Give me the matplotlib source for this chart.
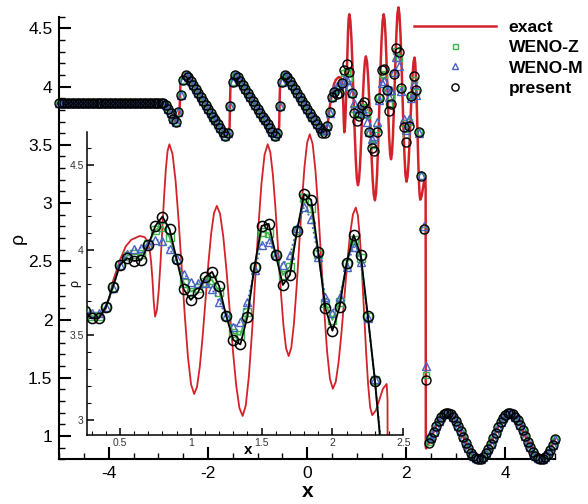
import numpy as np
import matplotlib
matplotlib.use("Agg")
import matplotlib.pyplot as plt
from matplotlib.ticker import MultipleLocator, FuncFormatter

plt.rcParams['font.family'] = ['Liberation Sans', 'DejaVu Sans']
plt.rcParams['axes.unicode_minus'] = False

# ------------------------------------------------------------
# density on the 201-node grid (dx = 0.05), t = 1.8
# ------------------------------------------------------------
x_nodes = np.round(np.linspace(-5.0, 5.0, 201), 2)

# -5.00 ... -2.95 : post-shock plateau
rho_flat = [3.857] * 42

# -2.90 ... 0.25 : entropy waves with shocklets (all schemes agree here)
rho_saw = [3.855, 3.840, 3.810, 3.770, 3.720, 3.700, 3.780, 3.930, 4.060, 4.100,
           4.080, 4.046, 4.013, 3.979, 3.945, 3.912, 3.878, 3.845, 3.811, 3.777,
           3.743, 3.710, 3.676, 3.643, 3.609, 3.578,
           3.600, 3.830, 4.040, 4.100,
           4.080, 4.046, 4.013, 3.979, 3.945, 3.912, 3.878, 3.845, 3.811, 3.777,
           3.743, 3.710, 3.676, 3.643, 3.609, 3.578,
           3.600, 3.830, 4.040, 4.100,
           4.080, 4.046, 4.013, 3.979, 3.945, 3.912, 3.878, 3.845, 3.811, 3.777,
           3.743, 3.710, 3.676, 3.643]

# 0.30 ... 2.45 : high-frequency region behind the main shock
osc_present = [3.598, 3.598, 3.663, 3.784, 3.912, 3.951, 3.935, 3.941, 4.029, 4.141,
               4.196, 4.122, 3.945, 3.769, 3.706, 3.749, 3.839, 3.871, 3.788, 3.612,
               3.471, 3.445, 3.608, 3.902, 4.141, 4.153, 3.971, 3.794, 3.853, 4.112,
               4.329, 4.294, 3.990, 3.657, 3.525, 3.663, 3.922, 4.088, 3.971, 3.612,
               3.231, 2.773, 1.485, 0.940]
osc_wenoz = [3.610, 3.610, 3.663, 3.780, 3.912, 3.965, 3.975, 3.975, 4.035, 4.118,
             4.137, 4.075, 3.945, 3.808, 3.755, 3.775, 3.814, 3.824, 3.755, 3.612,
             3.510, 3.500, 3.637, 3.902, 4.108, 4.098, 3.971, 3.853, 3.902, 4.118,
             4.304, 4.245, 3.975, 3.686, 3.588, 3.696, 3.918, 4.059, 3.951, 3.606,
             3.235, 2.770, 1.527, 0.950]
osc_wenom = [3.627, 3.627, 3.663, 3.775, 3.912, 3.976, 4.004, 4.014, 4.035, 4.059,
             4.055, 4.004, 3.945, 3.859, 3.814, 3.804, 3.804, 3.769, 3.696, 3.612,
             3.549, 3.578, 3.696, 3.882, 4.029, 4.049, 3.971, 3.912, 3.971, 4.127,
             4.251, 4.180, 3.959, 3.725, 3.631, 3.725, 3.902, 4.020, 3.931, 3.598,
             3.240, 2.807, 1.605, 1.000]

# 2.50 ... 5.00 : undisturbed sine wave ahead of the shock
rho_right = [0.987, 1.037, 1.084, 1.126, 1.161, 1.185, 1.198, 1.199, 1.187, 1.164,
             1.130, 1.088, 1.041, 0.992, 0.942, 0.897, 0.858, 0.827, 0.807, 0.800,
             0.805, 0.822, 0.850, 0.887, 0.932, 0.980, 1.030, 1.078, 1.121, 1.157,
             1.183, 1.197, 1.199, 1.189, 1.167, 1.135, 1.094, 1.048, 0.998, 0.949,
             0.903, 0.862, 0.830, 0.810, 0.800, 0.804, 0.819, 0.846, 0.882, 0.926,
             0.974]

rho_present = np.array(rho_flat + rho_saw + osc_present + rho_right)
rho_wenoz = np.array(rho_flat + rho_saw + osc_wenoz + rho_right)
rho_wenom = np.array(rho_flat + rho_saw + osc_wenom + rho_right)

# reference solution up to the shock (fine resolution), then the sine wave
exact_x_left = [-5.00, -2.92, -2.86, -2.80, -2.76, -2.72, -2.68, -2.65, -2.62, -2.59,
                -2.575, -2.565, -2.555, -2.53, -2.50, -2.46, -2.40,
                -1.66, -1.62, -1.58, -1.565, -1.555, -1.545, -1.52, -1.48, -1.40,
                -0.66, -0.62, -0.58, -0.565, -0.555, -0.545, -0.52, -0.48, -0.40,
                0.30, 0.34, 0.37, 0.40, 0.43, 0.45, 0.50, 0.54, 0.58, 0.64,
                0.675, 0.695, 0.71, 0.72, 0.73, 0.738, 0.748,
                0.7606, 0.7732, 0.7859, 0.7985, 0.8111, 0.8237, 0.8364, 0.849,
                0.8709, 0.8928, 0.9146, 0.9365, 0.9584, 0.9803, 1.0021, 1.024,
                1.044, 1.064, 1.084, 1.104, 1.124, 1.144, 1.164, 1.184,
                1.2068, 1.2295, 1.2523, 1.275, 1.2978, 1.3205, 1.3433, 1.366,
                1.3881, 1.4103, 1.4324, 1.4545, 1.4766, 1.4988, 1.5209, 1.543,
                1.5615, 1.580, 1.5985, 1.617, 1.6355, 1.654, 1.6725, 1.691,
                1.7096, 1.7283, 1.7469, 1.7655, 1.7841, 1.8028, 1.8214, 1.840,
                1.8604, 1.8808, 1.9011, 1.9215, 1.9419, 1.9623, 1.9826, 2.003,
                2.0233, 2.0435, 2.0638, 2.084, 2.1043, 2.1245, 2.1448, 2.165,
                2.1795, 2.194, 2.2085, 2.223, 2.2375, 2.252, 2.2665, 2.281,
                2.3065, 2.332, 2.3575, 2.383, 2.389, 2.393, 2.40, 2.45]
exact_rho_left = [3.857, 3.857, 3.845, 3.820, 3.790, 3.745, 3.710, 3.700, 3.715, 3.750,
                  3.790, 3.930, 4.040, 4.080, 4.100, 4.110, 4.085,
                  3.575, 3.585, 3.615, 3.660, 3.900, 4.040, 4.085, 4.105, 4.085,
                  3.575, 3.585, 3.615, 3.660, 3.900, 4.040, 4.085, 4.105, 4.085,
                  3.610, 3.600, 3.615, 3.655, 3.730, 3.815, 3.940, 4.020, 4.060, 4.082,
                  4.075, 4.050, 4.000, 3.930, 3.820, 3.700, 3.608,
                  3.646, 3.756, 3.921, 4.115, 4.308, 4.473, 4.583, 4.621,
                  4.565, 4.406, 4.168, 3.887, 3.606, 3.368, 3.209, 3.153,
                  3.195, 3.315, 3.494, 3.706, 3.918, 4.097, 4.217, 4.259,
                  4.212, 4.078, 3.878, 3.642, 3.405, 3.205, 3.071, 3.024,
                  3.085, 3.258, 3.517, 3.823, 4.128, 4.387, 4.560, 4.621,
                  4.574, 4.439, 4.237, 3.999, 3.760, 3.558, 3.423, 3.376,
                  3.426, 3.567, 3.778, 4.028, 4.278, 4.489, 4.630, 4.680,
                  4.623, 4.461, 4.219, 3.932, 3.645, 3.403, 3.241, 3.184,
                  3.224, 3.340, 3.513, 3.717, 3.920, 4.093, 4.209, 4.249,
                  4.203, 4.070, 3.873, 3.639, 3.405, 3.208, 3.075, 3.029,
                  3.056, 3.121, 3.185, 3.212, 3.120, 0.900, 0.893, 0.938]

exact_x = np.concatenate([exact_x_left, x_nodes[150:]])
exact_rho = np.concatenate([exact_rho_left, rho_right])

RED = '#d2232a'
GREEN = '#3db54a'
BLUE = '#4a62c4'

fmt = FuncFormatter(lambda v, p: f'{v:g}')

# ------------------------------------------------------------
# main axes
# ------------------------------------------------------------
fig = plt.figure(figsize=(5.88, 5.04), dpi=100)
ax = fig.add_axes([0.1009, 0.0887, 0.8431, 0.8782])

l_exact, = ax.plot(exact_x, exact_rho, color=RED, lw=1.8, clip_on=False, zorder=2, label='exact')
l_z, = ax.plot(x_nodes, rho_wenoz, ls='none', marker='s', ms=4.5, mfc='none', mec=GREEN,
               mew=1.0, clip_on=False, zorder=3, label='WENO-Z')
l_m, = ax.plot(x_nodes, rho_wenom, ls='none', marker='^', ms=5.2, mfc='none', mec=BLUE,
               mew=1.0, clip_on=False, zorder=4, label='WENO-M')
l_p, = ax.plot(x_nodes, rho_present, ls='none', marker='o', ms=6.5, mfc='none', mec='black',
               mew=1.0, clip_on=False, zorder=5, label='present')

ax.set_xlim(-5, 5)
ax.set_ylim(0.8, 4.6)
ax.xaxis.set_major_locator(MultipleLocator(2))
ax.xaxis.set_minor_locator(MultipleLocator(0.5))
ax.yaxis.set_major_locator(MultipleLocator(0.5))
ax.yaxis.set_minor_locator(MultipleLocator(0.1))
ax.xaxis.set_major_formatter(fmt)
ax.yaxis.set_major_formatter(fmt)
for side in ['top', 'right']:
    ax.spines[side].set_visible(False)
for side in ['left', 'bottom']:
    ax.spines[side].set_linewidth(1.5)
ax.tick_params(which='major', direction='in', length=8.5, width=1.5, labelsize=12.5, pad=5)
ax.tick_params(which='minor', direction='in', length=4.5, width=1.0)
ax.patch.set_alpha(0)

ax.text(0.5, -0.073, 'x', transform=ax.transAxes, ha='center', va='center',
        fontsize=15, fontweight='bold')
ax.text(-0.083, 0.5, 'ρ', transform=ax.transAxes, ha='center', va='center',
        rotation=90, fontsize=14)

ax.legend(handles=[l_exact, l_z, l_m, l_p], loc='upper left',
          bbox_to_anchor=(414 / 588, 1 - 20 / 504), bbox_transform=fig.transFigure,
          frameon=False, prop={'weight': 'bold', 'size': 12.6}, handlelength=4.7,
          handletextpad=0.7, labelspacing=0.28, borderpad=0, borderaxespad=0,
          markerscale=0.8)

# ------------------------------------------------------------
# inset: zoom on the region behind the shock
# ------------------------------------------------------------
ax_in = fig.add_axes([0.1486, 0.1369, 0.5372, 0.6018])
ax_in.set_facecolor('none')

ax_in.plot(exact_x, exact_rho, color=RED, lw=1.3, zorder=2)
ax_in.plot(x_nodes, rho_wenoz, color=GREEN, lw=1.3, marker='s', ms=5.3, mfc='none',
           mec=GREEN, mew=1.0, zorder=3)
ax_in.plot(x_nodes, rho_wenom, color=BLUE, lw=1.3, ls=':', marker='^', ms=6.0, mfc='none',
           mec=BLUE, mew=1.0, zorder=4)
ax_in.plot(x_nodes, rho_present, color='black', lw=1.3, marker='o', ms=7.3, mfc='none',
           mec='black', mew=1.1, zorder=5)

ax_in.set_xlim(0.27, 2.5)
ax_in.set_ylim(2.912, 4.695)
ax_in.xaxis.set_major_locator(MultipleLocator(0.5))
ax_in.xaxis.set_minor_locator(MultipleLocator(0.1))
ax_in.yaxis.set_major_locator(MultipleLocator(0.5))
ax_in.yaxis.set_minor_locator(MultipleLocator(0.1))
ax_in.xaxis.set_major_formatter(fmt)
ax_in.yaxis.set_major_formatter(fmt)
for side in ['top', 'right']:
    ax_in.spines[side].set_visible(False)
for side in ['left', 'bottom']:
    ax_in.spines[side].set_linewidth(1.1)
ax_in.tick_params(which='major', direction='in', length=5, width=1.1, labelsize=7.5,
                  labelcolor='#333333', pad=2.5)
ax_in.tick_params(which='minor', direction='in', length=3, width=0.8)

ax_in.text(0.509, -0.05, 'x', transform=ax_in.transAxes, ha='center', va='center',
           fontsize=11, fontweight='bold')
ax_in.text(-0.039, 0.5, 'ρ', transform=ax_in.transAxes, ha='center', va='center',
           rotation=90, fontsize=9)

fig.savefig('out.png', dpi=100)
